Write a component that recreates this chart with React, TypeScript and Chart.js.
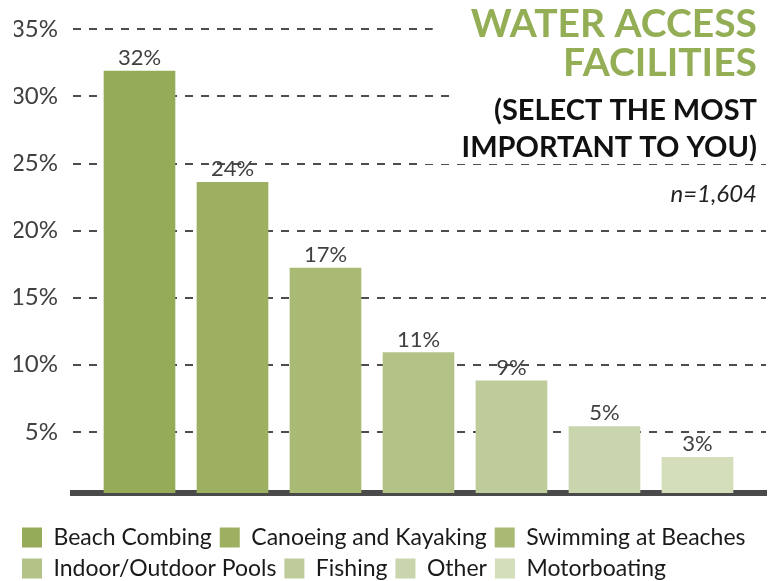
import React, { useEffect, useRef } from 'react';
import { Chart, registerables } from 'chart.js';

Chart.register(...registerables);

const CATEGORIES = [
  'Beach Combing',
  'Canoeing and Kayaking',
  'Swimming at Beaches',
  'Indoor/Outdoor Pools',
  'Fishing',
  'Other',
  'Motorboating',
];
const VALUES = [31.9, 23.6, 17.2, 10.9, 8.8, 5.4, 3.1];
const VALUE_LABELS = ['32%', '24%', '17%', '11%', '9%', '5%', '3%'];
const COLORS = ['#96AB57', '#9DB062', '#A8BA73', '#B3C388', '#BECC9B', '#C9D5AC', '#D5DEBB'];
const Y_TICKS = [5, 10, 15, 20, 25, 30, 35];
const TITLE_LINES = ['WATER ACCESS', 'FACILITIES'];
const SUBTITLE_LINES = ['(SELECT THE MOST', 'IMPORTANT TO YOU)'];
const SAMPLE_NOTE = 'n=1,604';

const GREEN = '#93AE55';
const TEXT_DARK = '#404040';

const valueLabelPlugin = {
  id: 'valueLabels',
  afterDraw(chart: any) {
    const ctx = chart.ctx;
    const meta = chart.getDatasetMeta(0);
    ctx.save();
    ctx.font = '22px Lato';
    ctx.fillStyle = TEXT_DARK;
    ctx.textAlign = 'center';
    ctx.textBaseline = 'alphabetic';
    meta.data.forEach((bar: any, i: number) => {
      ctx.fillText(VALUE_LABELS[i], bar.x, bar.y - 6);
    });
    ctx.restore();
  },
};

const cornerTitlePlugin = {
  id: 'cornerTitle',
  afterDraw(chart: any) {
    const ctx = chart.ctx;
    const right = 757;
    const lines = [
      { text: TITLE_LINES[0], font: 'bold 39px Lato', color: GREEN, y: 37, cap: 27 },
      { text: TITLE_LINES[1], font: 'bold 39px Lato', color: GREEN, y: 76, cap: 27 },
      { text: SUBTITLE_LINES[0], font: 'bold 29px Lato', color: '#111111', y: 120, cap: 21 },
      { text: SUBTITLE_LINES[1], font: 'bold 29px Lato', color: '#111111', y: 157, cap: 21 },
      { text: SAMPLE_NOTE, font: 'italic 24px Lato', color: '#222222', y: 202, cap: 17 },
    ];
    ctx.save();
    ctx.textAlign = 'right';
    ctx.textBaseline = 'alphabetic';
    // white boxes behind the text (hide gridlines)
    lines.forEach((l) => {
      ctx.font = l.font;
      const w = ctx.measureText(l.text).width;
      const x0 = right - w - 38;
      ctx.fillStyle = '#ffffff';
      ctx.fillRect(x0, l.y - l.cap - 9, chart.width - x0, l.cap + 16);
    });
    lines.forEach((l) => {
      ctx.font = l.font;
      ctx.fillStyle = l.color;
      ctx.fillText(l.text, right, l.y);
    });
    ctx.restore();
  },
};

export default function App() {
  const canvasRef = useRef<HTMLCanvasElement | null>(null);

  useEffect(() => {
    const canvas = canvasRef.current;
    if (!canvas) return;
    const chart = new Chart(canvas, {
      type: 'bar',
      data: {
        datasets: [
          {
            label: 'Water access facilities',
            data: VALUES.map((v, i) => ({ x: i, y: v })),
            backgroundColor: COLORS,
            borderWidth: 0,
            barThickness: 71,
            clip: 0,
          } as any,
        ],
      },
      options: {
        responsive: false,
        animation: false,
        devicePixelRatio: 1,
        layout: { padding: { left: 14, right: 8, top: 25, bottom: 0 } },
        scales: {
          x: {
            type: 'linear',
            offset: false,
            min: -0.715,
            max: 6.737,
            z: 1,
            ticks: { display: false },
            grid: { display: false, drawTicks: false },
            border: { display: true, color: '#4a4a4a', width: 6 },
            afterFit: (scale: any) => {
              scale.height = 25;
            },
          },
          y: {
            min: 0.44,
            max: 35,
            z: 1,
            afterBuildTicks: (scale: any) => {
              scale.ticks = Y_TICKS.map((v) => ({ value: v }));
            },
            afterFit: (scale: any) => {
              scale.width = 59;
            },
            ticks: {
              padding: 15,
              color: TEXT_DARK,
              font: { family: 'Lato', size: 24 },
              callback: (v: any) => v + '%',
            },
            grid: { color: '#4d4d4d', lineWidth: 2, drawTicks: false },
            border: { display: false, dash: [8, 8] },
          },
        },
        plugins: {
          title: { display: false },
          tooltip: { enabled: false },
          legend: {
            display: true,
            position: 'bottom',
            align: 'start',
            maxHeight: 63,
            labels: {
              font: { family: 'Lato', size: 23 },
              color: '#1a1a1a',
              boxWidth: 20,
              boxHeight: 20,
              padding: 8,
              generateLabels: () =>
                CATEGORIES.map((c, i) => ({
                  text: c,
                  fillStyle: COLORS[i],
                  strokeStyle: COLORS[i],
                  lineWidth: 0,
                  hidden: false,
                  index: i,
                  datasetIndex: 0,
                  fontColor: '#1a1a1a',
                })),
            },
          },
        },
      } as any,
      plugins: [valueLabelPlugin, cornerTitlePlugin],
    });
    return () => chart.destroy();
  }, []);

  return (
    <div style={{ position: 'fixed', left: 0, top: 0, width: 774, height: 581, background: '#ffffff' }}>
      <canvas ref={canvasRef} width={774} height={581} style={{ display: 'block' }} />
    </div>
  );
}
